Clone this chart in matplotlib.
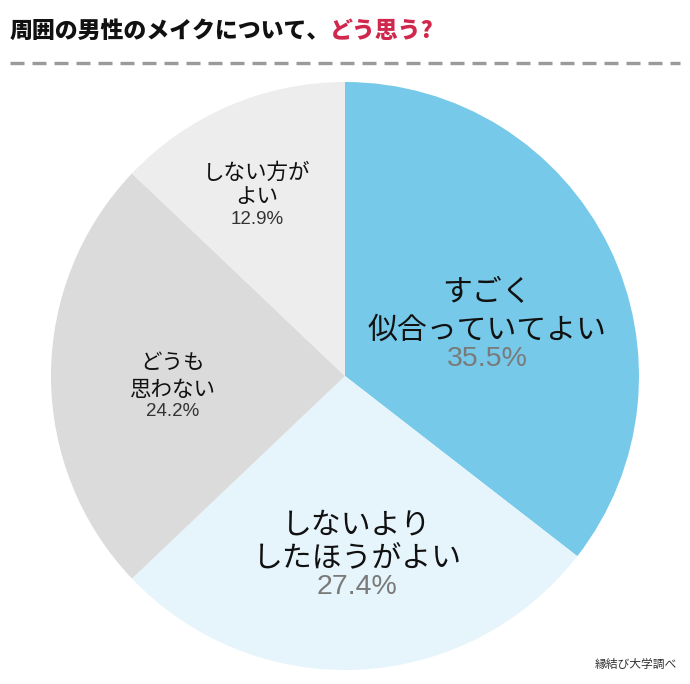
import matplotlib
matplotlib.use("Agg")
import matplotlib.pyplot as plt

plt.rcParams['font.family'] = ['Noto Sans CJK JP', 'DejaVu Sans']

# data
labels = ['すごく\n似合っていてよい', 'しないより\nしたほうがよい', 'どうも\n思わない', 'しない方が\nよい']
values = [35.5, 27.4, 24.2, 12.9]
colors = ['#76C9E8', '#E6F5FB', '#DBDBDB', '#EDEDED']

W, H = 690, 684
fig = plt.figure(figsize=(W / 100, H / 100), dpi=100)

# pie centre (345, 376) px, radius 294 px
cx, cy, r = 345, 376, 294
ax = fig.add_axes([(cx - r) / W, (H - cy - r) / H, 2 * r / W, 2 * r / H])
ax.pie(values, colors=colors, startangle=90, counterclock=False,
       wedgeprops=dict(linewidth=0))
ax.set_xlim(-1, 1)
ax.set_ylim(-1, 1)
ax.axis('off')


def px(x, y):
    return x / W, 1 - y / H


# title
t1 = fig.text(*px(10, 31), '周囲の男性のメイクについて、', fontsize=16.5, fontweight='heavy',
              color='#111111', ha='left', va='center')
fig.canvas.draw()
bb = t1.get_window_extent()
fig.text(bb.x1 / W, 1 - 31 / H, 'どう思う?', fontsize=16.5, fontweight='heavy',
         color='#D0284C', ha='left', va='center')

# dashed separator
fig.add_artist(plt.Line2D([10 / W, 680 / W], [1 - 63 / H, 1 - 63 / H], color='#9A9A9A',
                          lw=2.4, dashes=(4.2, 2.4)))

# labels: (x, y of each line centre, pct y, font size, pct size, pct colour)
layout = [
    (487, [293, 330], 359, 21.5, 20.5, '#7A7A7A'),
    (357, [525, 558], 587, 21.5, 20.5, '#7A7A7A'),
    (173, [363, 390], 412, 15.5, 13.5, '#333333'),
    (257, [173, 197], 220, 15.5, 13.5, '#333333'),
]
for lab, v, (x, ys, py, fs, pfs, pc) in zip(labels, values, layout):
    for line, y in zip(lab.split('\n'), ys):
        fig.text(*px(x, y), line, fontsize=fs, ha='center', va='center', color='#111111')
    fig.text(*px(x, py), f'{v:.1f}%', fontsize=pfs, ha='center', va='center', color=pc,
             family=['Liberation Sans'])

fig.text(*px(677, 664), '縁結び大学調べ', fontsize=8.5, ha='right', va='center', color='#333333')

fig.savefig('out.png', dpi=100)
